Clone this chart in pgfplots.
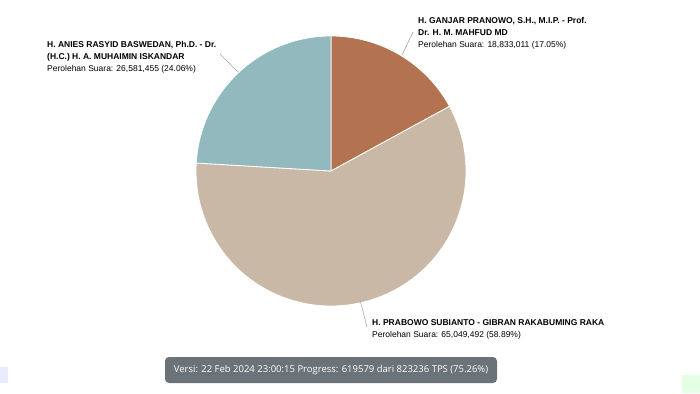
\documentclass[border=0pt]{standalone}
\usepackage{pgfplots}
\pgfplotsset{compat=1.18}
\usepackage{fontspec}
\setmainfont{Liberation Sans}
\newfontfamily\boxfont{Open Sans}
\definecolor{ganjar}{HTML}{B37350}
\definecolor{prabowo}{HTML}{C9B8A5}
\definecolor{anies}{HTML}{91B9BE}
\definecolor{boxgray}{HTML}{6C7378}
\definecolor{leader}{HTML}{A0A8AE}
\begin{document}
\begin{tikzpicture}
% vote shares (%) : Ganjar, Prabowo, Anies
\def\pG{17.05}\def\pP{58.89}\def\pA{24.06}
\pgfmathsetmacro\aG{90-3.6*\pG}
\pgfmathsetmacro\aP{\aG-3.6*\pP}
\pgfmathsetmacro\aA{\aP-3.6*\pA}
\begin{axis}[
  x=1pt,y=1pt,
  xmin=0,xmax=700,ymin=0,ymax=393,
  hide axis, clip=false,
]
\addplot[draw=none] coordinates {(0,0) (700,393)};
\fill[ganjar, draw=white, line width=0.8pt] (axis cs:331,222) -- ++(90:135pt) arc[start angle=90, end angle=\aG, radius=135pt] -- cycle;
\fill[prabowo, draw=white, line width=0.8pt] (axis cs:331,222) -- ++(\aG:135pt) arc[start angle=\aG, end angle=\aP, radius=135pt] -- cycle;
\fill[anies, draw=white, line width=0.8pt] (axis cs:331,222) -- ++(\aP:135pt) arc[start angle=\aP, end angle=\aA, radius=135pt] -- cycle;
% leader lines
\draw[leader, line width=0.6pt] (axis cs:238,321) -- (axis cs:220,339);
\draw[leader, line width=0.6pt] (axis cs:402,338) -- (axis cs:413,361);
\draw[leader, line width=0.6pt] (axis cs:360,93) -- (axis cs:367,66);
% labels
\node[anchor=north west, align=left, inner sep=0pt, font=\fontsize{8.5}{12}\selectfont] at (axis cs:47,352)
 {\textbf{H. ANIES RASYID BASWEDAN, Ph.D. - Dr.}\\\textbf{(H.C.) H. A. MUHAIMIN ISKANDAR}\\Perolehan Suara: 26,581,455 (24.06\%)};
\node[anchor=north west, align=left, inner sep=0pt, font=\fontsize{8.5}{12}\selectfont] at (axis cs:418,376)
 {\textbf{H. GANJAR PRANOWO, S.H., M.I.P. - Prof.}\\\textbf{Dr. H. M. MAHFUD MD}\\Perolehan Suara: 18,833,011 (17.05\%)};
\node[anchor=north west, align=left, inner sep=0pt, font=\fontsize{8.5}{12}\selectfont] at (axis cs:372,74)
 {\textbf{H. PRABOWO SUBIANTO - GIBRAN RAKABUMING RAKA}\\Perolehan Suara: 65,049,492 (58.89\%)};
% status box
\fill[boxgray, rounded corners=4pt] (axis cs:165,36) rectangle (axis cs:497,10);
\node[white, font=\boxfont\fontsize{9.5}{11}\selectfont, inner sep=0pt] at (axis cs:331,23)
 {Versi: 22 Feb 2024 23:00:15 Progress: 619579 dari 823236 TPS (75.26\%)};
% corner widgets
\fill[blue!8] (axis cs:0,26) rectangle (axis cs:8,10);
\fill[green!10] (axis cs:682,18) rectangle (axis cs:700,0);
\end{axis}
\end{tikzpicture}
\end{document}
